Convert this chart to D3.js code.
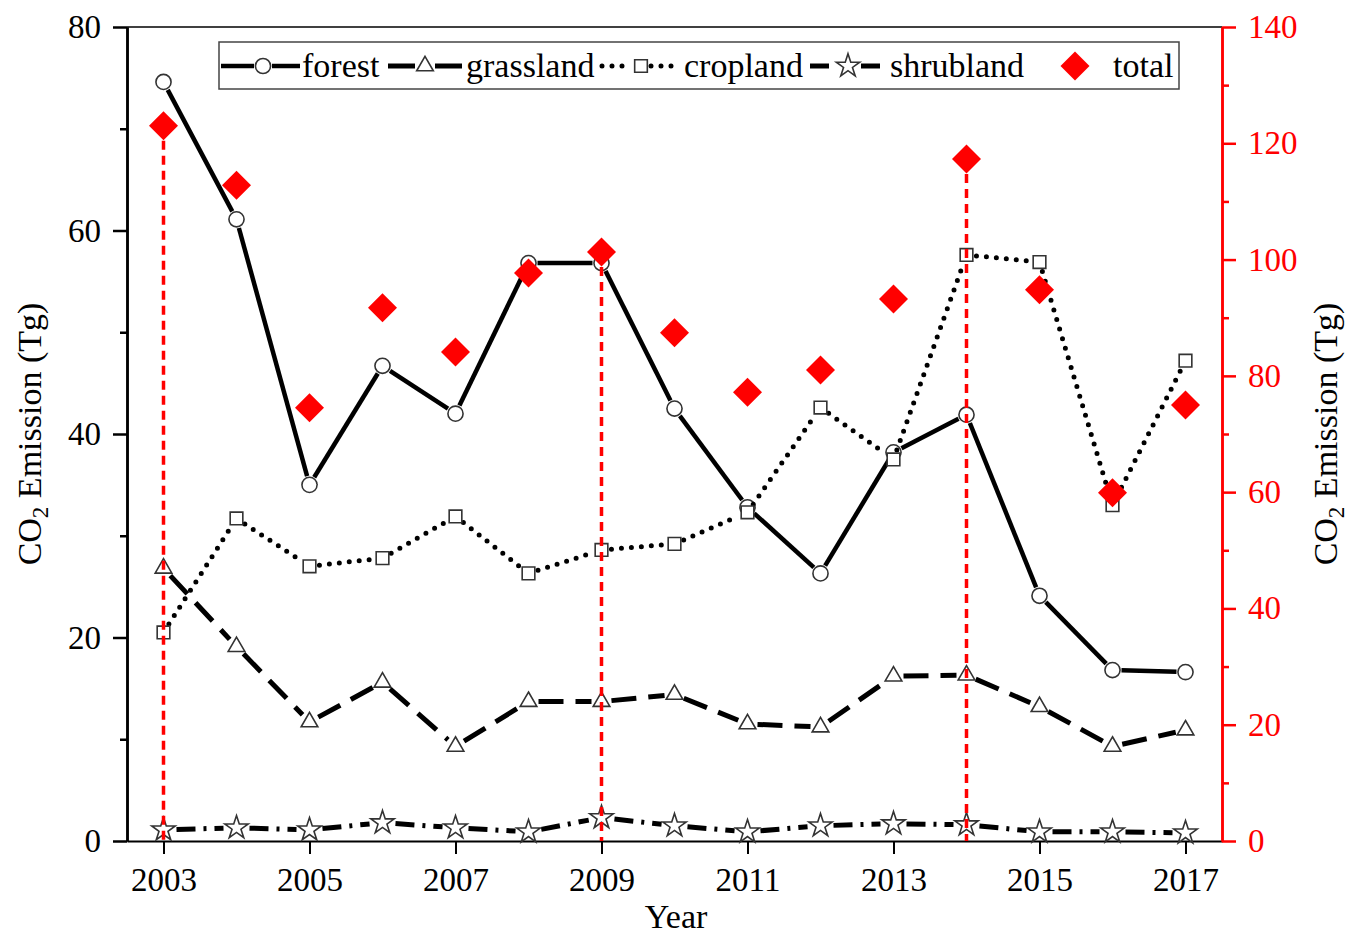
<!DOCTYPE html>
<html>
<head>
<meta charset="utf-8">
<script src="https://cdn.jsdelivr.net/npm/d3@7"></script>
<style>
  body { margin: 0; background: #fff; }
  text { font-family: "Liberation Serif", "Times New Roman", serif; }
</style>
</head>
<body>
<div id="chart"></div>
<script>
// data
const years = d3.range(2003, 2018);
const forest    = [74.6, 61.1, 35.0, 46.7, 42.0, 56.8, 56.8, 42.5, 32.8, 26.3, 38.2, 41.9, 24.1, 16.8, 16.6];
const grassland = [26.8, 19.1, 11.7, 15.6, 9.3, 13.7, 13.7, 14.4, 11.5, 11.2, 16.2, 16.3, 13.2, 9.3, 10.9];
const cropland  = [20.5, 31.7, 27.0, 27.8, 31.9, 26.3, 28.6, 29.2, 32.3, 42.6, 37.5, 57.6, 56.9, 33.0, 47.2];
const shrubland = [1.1, 1.3, 1.1, 1.8, 1.3, 0.9, 2.3, 1.5, 0.9, 1.5, 1.7, 1.6, 0.9, 0.9, 0.8];
const total     = [123.0, 112.8, 74.5, 91.7, 84.1, 97.7, 101.3, 87.4, 77.2, 81.0, 93.2, 117.3, 94.8, 59.9, 75.0];
const markedYears = [2003, 2009, 2014];
const xTicks = [2003, 2005, 2007, 2009, 2011, 2013, 2015, 2017];
const leftTicks = [0, 20, 40, 60, 80];
const rightTicks = [0, 20, 40, 60, 80, 100, 120, 140];

const width = 1351;
const height = 936;
const margin = { top: 27, right: 129, bottom: 95, left: 127 };
const red = "#ff0000";

const svg = d3.select("#chart")
    .append("svg")
    .attr("width", width)
    .attr("height", height);

const x = d3.scaleLinear()
    .domain([2002.5, 2017.5])
    .range([margin.left, width - margin.right]);

const yL = d3.scaleLinear()
    .domain([0, 80])
    .range([height - margin.bottom, margin.top]);

const yR = d3.scaleLinear()
    .domain([0, 140])
    .range([height - margin.bottom, margin.top]);

// marker shapes
const circle = d3.symbol(d3.symbolCircle, 180);
const triangle = d3.symbol(d3.symbolTriangle, 120);
const square = d3.symbol(d3.symbolSquare, 160);
const star = d3.symbol(d3.symbolStar, 170);
const diamond = d3.symbol(d3.symbolSquare, 420);

const series = [
    { name: "forest", values: forest, dash: null, cap: "butt", w: 4.5, shape: circle, gap: 9 },
    { name: "grassland", values: grassland, dash: "25,12", cap: "butt", w: 5, shape: triangle, gap: 10 },
    { name: "cropland", values: cropland, dash: "0,10", cap: "round", w: 5, shape: square, gap: 10 },
    { name: "shrubland", values: shrubland, dash: "19,8,3,8", cap: "butt", w: 5, shape: star, gap: 13 }
];

// top frame line
svg.append("line")
    .attr("x1", margin.left).attr("x2", width - margin.right)
    .attr("y1", margin.top).attr("y2", margin.top)
    .attr("stroke", "#000").attr("stroke-width", 1.5);

// axes
function styleAxis(g, color, w) {
    g.select(".domain").attr("stroke", color).attr("stroke-width", w);
    g.selectAll(".tick line").attr("stroke", color).attr("stroke-width", w);
    g.selectAll(".tick text").attr("fill", color).attr("font-size", "33px")
        .attr("font-family", "'Liberation Serif', serif");
}

svg.append("g")
    .attr("transform", `translate(0,${height - margin.bottom})`)
    .call(d3.axisBottom(x).tickValues(xTicks).tickSize(13).tickSizeOuter(0)
        .tickPadding(14).tickFormat(d3.format("d")))
    .call(g => styleAxis(g, "#000", 2));

svg.append("g")
    .attr("transform", `translate(${margin.left},0)`)
    .call(d3.axisLeft(yL).tickValues([10, 30, 50, 70]).tickSize(7).tickSizeOuter(0).tickFormat(""))
    .call(g => styleAxis(g, "#000", 2.5));
svg.append("g")
    .attr("transform", `translate(${margin.left},0)`)
    .call(d3.axisLeft(yL).tickValues(leftTicks).tickSize(14).tickSizeOuter(0).tickPadding(12))
    .call(g => styleAxis(g, "#000", 2.5));

svg.append("g")
    .attr("transform", `translate(${width - margin.right},0)`)
    .call(d3.axisRight(yR).tickValues(d3.range(10, 140, 20)).tickSize(7).tickSizeOuter(0).tickFormat(""))
    .call(g => styleAxis(g, red, 2.5));
svg.append("g")
    .attr("transform", `translate(${width - margin.right},0)`)
    .call(d3.axisRight(yR).tickValues(rightTicks).tickSize(14).tickSizeOuter(0).tickPadding(12))
    .call(g => styleAxis(g, red, 2.5));

// axis titles
function co2Title(sel) {
    sel.append("tspan").text("CO");
    sel.append("tspan").attr("font-size", "23px").attr("dy", 7).text("2");
    sel.append("tspan").attr("dy", -7).text(" Emission (Tg)");
}
svg.append("text")
    .attr("transform", "translate(41,434) rotate(-90)")
    .attr("text-anchor", "middle").attr("font-size", "34px")
    .call(co2Title);
svg.append("text")
    .attr("transform", "translate(1337,434) rotate(-90)")
    .attr("text-anchor", "middle").attr("font-size", "34px")
    .call(co2Title);
svg.append("text")
    .attr("x", 676).attr("y", 928)
    .attr("text-anchor", "middle").attr("font-size", "34px")
    .text("Year");

// line segments with small gaps at the markers
function segments(values, gap) {
    const pts = values.map((v, i) => [x(years[i]), yL(v)]);
    return d3.pairs(pts).map(([a, b]) => {
        const dx = b[0] - a[0], dy = b[1] - a[1];
        const len = Math.hypot(dx, dy);
        const ux = dx / len, uy = dy / len;
        return [[a[0] + ux * gap, a[1] + uy * gap], [b[0] - ux * gap, b[1] - uy * gap]];
    });
}

series.forEach(s => {
    svg.append("g")
        .selectAll("line")
        .data(segments(s.values, s.gap))
        .join("line")
        .attr("x1", d => d[0][0]).attr("y1", d => d[0][1])
        .attr("x2", d => d[1][0]).attr("y2", d => d[1][1])
        .attr("stroke", "#000")
        .attr("stroke-width", s.w)
        .attr("stroke-linecap", s.cap)
        .attr("stroke-dasharray", s.dash);

    svg.append("g")
        .selectAll("path")
        .data(s.values)
        .join("path")
        .attr("d", s.shape)
        .attr("transform", (d, i) => `translate(${x(years[i])},${yL(d)})`)
        .attr("fill", "#fff")
        .attr("stroke", "#333")
        .attr("stroke-width", 1.6);
});

// red dashed drop lines
svg.append("g")
    .selectAll("line")
    .data(markedYears)
    .join("line")
    .attr("x1", d => x(d)).attr("x2", d => x(d))
    .attr("y1", d => yR(total[years.indexOf(d)]))
    .attr("y2", yR(0))
    .attr("stroke", red)
    .attr("stroke-width", 3.5)
    .attr("stroke-dasharray", "9,6");

// total diamonds
svg.append("g")
    .selectAll("path")
    .data(total)
    .join("path")
    .attr("d", diamond)
    .attr("transform", (d, i) => `translate(${x(years[i])},${yR(d)}) rotate(45)`)
    .attr("fill", red);

// legend
const legend = svg.append("g");
legend.append("rect")
    .attr("x", 219).attr("y", 42).attr("width", 960).attr("height", 47)
    .attr("fill", "#fff").attr("stroke", "#444").attr("stroke-width", 1.5);

const legendItems = [
    { s: series[0], x0: 221, xm: 263, x1: 300, tx: 302 },
    { s: series[1], x0: 388, xm: 425, x1: 462, tx: 466 },
    { s: series[2], x0: 602, xm: 641, x1: 680, tx: 684 },
    { s: series[3], x0: 810, xm: 848, x1: 886, tx: 890 }
];
const ly = 66;
legendItems.forEach(it => {
    const s = it.s;
    [[it.x0, it.xm - s.gap], [it.xm + s.gap, it.x1]].forEach(([a, b]) => {
        legend.append("line")
            .attr("x1", a).attr("x2", b).attr("y1", ly).attr("y2", ly)
            .attr("stroke", "#000").attr("stroke-width", s.w)
            .attr("stroke-linecap", s.cap)
            .attr("stroke-dasharray", s.name === "grassland" ? null : s.dash);
    });
    legend.append("path")
        .attr("d", s.shape)
        .attr("transform", `translate(${it.xm},${ly})`)
        .attr("fill", "#fff").attr("stroke", "#333").attr("stroke-width", 1.6);
    legend.append("text")
        .attr("x", it.tx).attr("y", ly + 11)
        .attr("font-size", "34px")
        .text(s.name);
});
legend.append("path")
    .attr("d", diamond)
    .attr("transform", `translate(1075,${ly}) rotate(45)`)
    .attr("fill", red);
legend.append("text")
    .attr("x", 1113).attr("y", ly + 11)
    .attr("font-size", "34px")
    .text("total");
</script>
</body>
</html>
